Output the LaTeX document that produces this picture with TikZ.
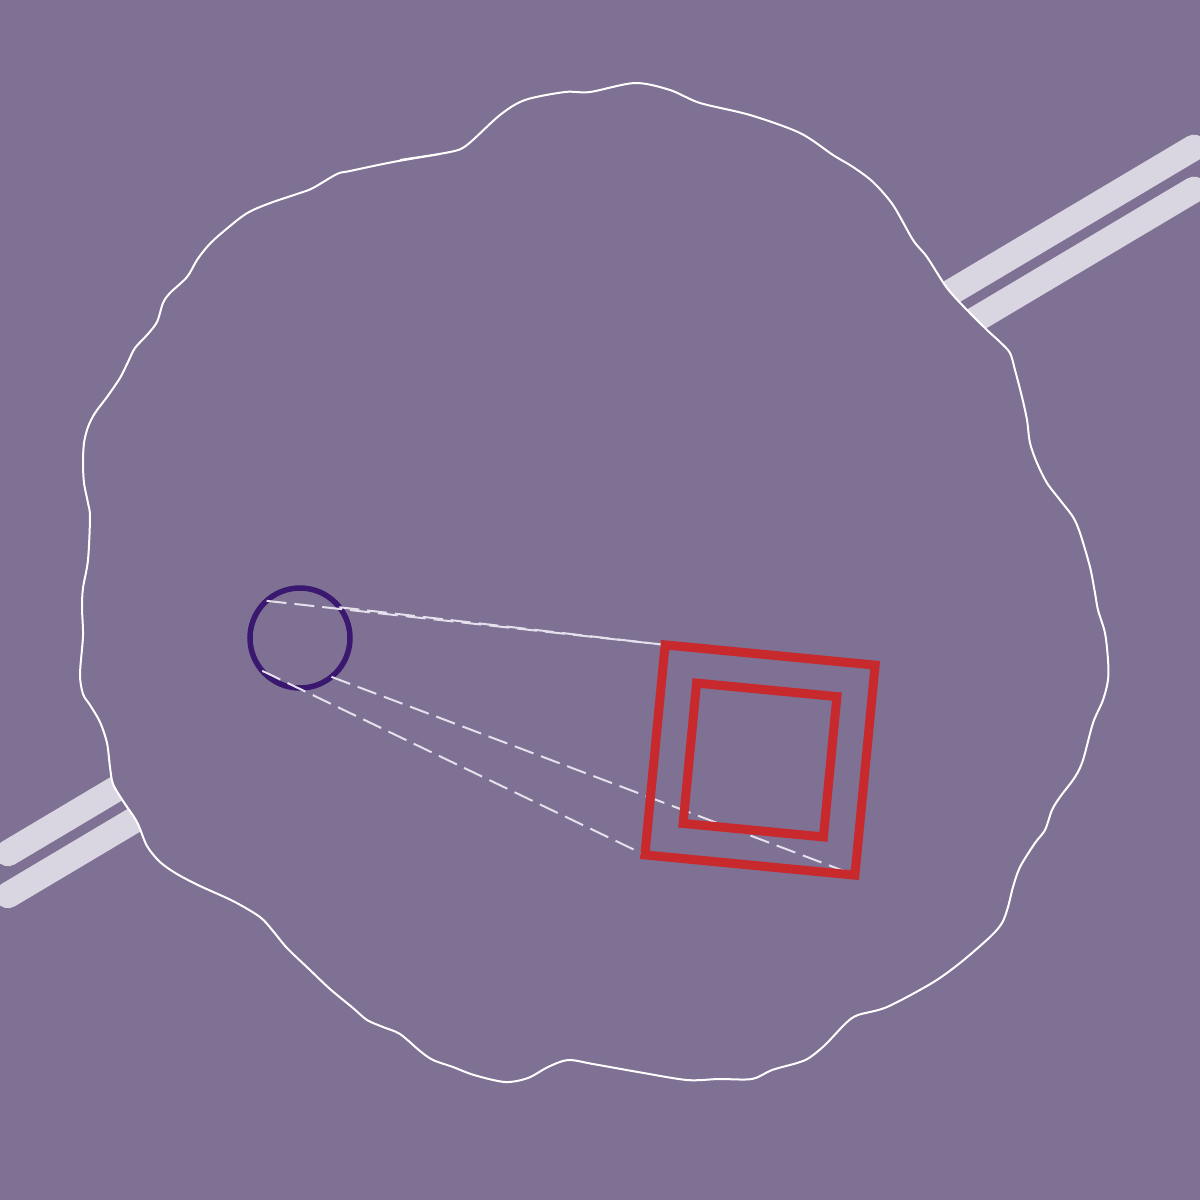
\documentclass[tikz,border=0pt]{standalone}
\definecolor{bgc}{HTML}{7F7194}
\definecolor{bandc}{HTML}{D9D5E1}
\definecolor{camc}{HTML}{3A1870}
\definecolor{sqc}{HTML}{C8292C}
\definecolor{dashc}{HTML}{E4E0EC}
\pgfdeclarelayer{bgl}
\pgfdeclarelayer{mid}
\pgfsetlayers{bgl,mid,main}
\begin{document}
\begin{tikzpicture}[x=1pt,y=-1pt,
  bandline/.style={draw=bandc, line width=26pt, line cap=round},
  blobline/.style={draw=white, line width=2pt, fill=bgc},
  camera/.style={circle, draw=camc, line width=5.5pt, minimum size=100pt, inner sep=0pt, outer sep=0pt},
  frame/.style={rectangle, draw=sqc, line width=9pt, inner sep=0pt, outer sep=0pt, rotate=-5.5},
  ray/.style={draw=dashc, line width=2pt, dash pattern=on 20pt off 8pt}]
\useasboundingbox (0,0) rectangle (1200,1200);
\begin{pgfonlayer}{bgl}
\clip (0,0) rectangle (1200,1200);
\fill[bgc] (0,0) rectangle (1200,1200);
\coordinate (b1s) at (8,853.2);
\coordinate (b1e) at (1194,147.6);
\coordinate (b2s) at (8,895.2);
\coordinate (b2e) at (1194,189.6);
\draw[bandline] (b1s) -- (b1e);
\draw[bandline] (b2s) -- (b2e);
\path[blobline] plot[smooth cycle, tension=0.5] coordinates {
(400,160) (450,152) (467,145) (500,115) (525,100) (565,92) (590,92) (635,83) (670,90) (700,103)
(750,115) (800,133) (833,155) (853,167) (873,182) (893,205) (913,240) (927,257) (947,288) (967,310)
(987,330) (1000,342) (1010,353) (1015,370) (1022,397) (1027,420) (1030,443) (1037,463) (1047,483) (1060,500)
(1073,517) (1080,533) (1090,567) (1095,593) (1098,610) (1105,633) (1108,660) (1108,680) (1103,700) (1093,723)
(1083,760) (1075,777) (1060,797) (1052,810) (1045,830) (1035,843) (1020,867) (1013,887) (1008,907) (1002,923)
(990,937) (960,963) (932,983) (887,1007) (858,1015) (846,1023) (825,1045) (809,1058) (797,1063) (772,1070)
(752,1079) (719,1079) (687,1080) (638,1072) (593,1064) (568,1060) (548,1067) (528,1078) (505,1082) (474,1075)
(453,1067) (433,1060) (420,1051) (400,1034) (383,1027) (367,1020) (353,1008) (330,989) (310,970) (287,948)
(273,931) (260,917) (233,901) (200,886) (177,874) (160,862) (147,846) (137,822) (123,801) (113,784)
(110,767) (107,743) (100,722) (90,705) (83,694) (80,674) (83,636) (82,608) (83,588) (88,560)
(90,517) (88,503) (84,483) (83,463) (84,443) (88,427) (95,413) (107,397) (120,378) (128,362)
(135,348) (147,335) (157,322) (163,303) (170,293) (187,277) (197,260) (207,247) (217,237) (240,218)
(253,210) (273,202) (300,193) (313,188) (337,174) (350,171) (393,162) (440,154)};
\node (cam) [camera] at (300,638) {};
\end{pgfonlayer}
\node (outer) [frame, minimum size=211pt] at (760,760) {};
\node (inner) [frame, minimum size=141pt] at (760,760) {};
\begin{pgfonlayer}{mid}
\draw[ray] (cam.132) -- (outer.north west);
\draw[ray] (cam.38) -- (outer.north west);
\draw[ray] (cam.221) -- (outer.south west);
\draw[ray] (cam.309) -- (outer.south east);
\end{pgfonlayer}
\end{tikzpicture}
\end{document}
